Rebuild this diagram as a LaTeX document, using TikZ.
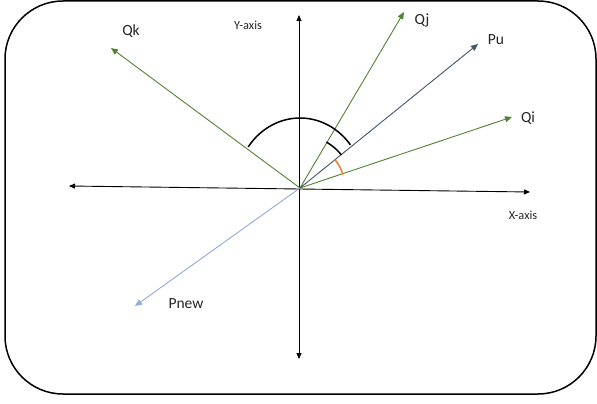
\documentclass[tikz,border=0pt]{standalone}
\usepackage{fontspec}
\setmainfont{Carlito}
\usetikzlibrary{arrows.meta}
\definecolor{vgreen}{HTML}{548235}
\definecolor{vdark}{HTML}{44546A}
\definecolor{vlight}{HTML}{8FAADC}
\definecolor{vorange}{HTML}{ED7D31}
\tikzset{
  vec/.style={line width=0.9pt, -{Triangle[length=7pt,width=6pt]}},
  axis/.style={line width=0.9pt, black, {Triangle[length=6pt,width=5pt]}-{Triangle[length=6pt,width=5pt]}},
  biglbl/.style={font=\fontsize{15.5}{15.5}\selectfont, text=black!85, inner sep=0pt},
  axlbl/.style={font=\fontsize{12.3}{12.3}\selectfont, text=black!85, inner sep=0pt},
  anglearc/.style={line width=1.5pt}
}
\begin{document}
\begin{tikzpicture}[x=1pt,y=-1pt]
\useasboundingbox (0,0) rectangle (597,404);
\fill[white] (0,0) rectangle (597,404);
\draw[line width=1.5pt, rounded corners=58pt] (5,1) rectangle (596,394);
% origin and tips
\coordinate (O) at (300,188);
\coordinate (xl) at (69,186);
\coordinate (xr) at (530,192);
\coordinate (yt) at (299,15);
\coordinate (yb) at (299,359);
\coordinate (qk) at (111,48);
\coordinate (qj) at (404,12);
\coordinate (pu) at (478,44);
\coordinate (qi) at (512,117);
\coordinate (pn) at (135,306);
% axes
\draw[axis] (xl) -- (xr);
\draw[axis] (yb) -- (yt);
% vectors
\draw[vec, vgreen] (O) -- (qk);
\draw[vec, vgreen] (O) -- (qj);
\draw[vec, vgreen] (O) -- (qi);
\draw[vec, vdark] (O) -- (pu);
\draw[vec, vlight] (O) -- (pn);
% angle arcs
\draw[anglearc, black] ([shift={(144:64pt and 70pt)}]O) arc[start angle=144, end angle=38, x radius=64pt, y radius=70pt];
\draw[anglearc, black] ([shift={(60:53pt)}]O) arc[start angle=60, end angle=38.5, radius=53pt];
\draw[anglearc, vorange] ([shift={(38.5:45pt)}]O) arc[start angle=38.5, end angle=17.5, radius=45pt];
% labels
\node[biglbl] (lqk) at (131,31) {Qk};
\node[biglbl] (lqj) at (422,20) {Qj};
\node[biglbl] (lpu) at (496,40) {Pu};
\node[biglbl] (lqi) at (528,118) {Qi};
\node[biglbl] (lpn) at (186,304) {Pnew};
\node[axlbl] (lya) at (248,25) {Y-axis};
\node[axlbl] (lxa) at (523,215) {X-axis};
\end{tikzpicture}
\end{document}
